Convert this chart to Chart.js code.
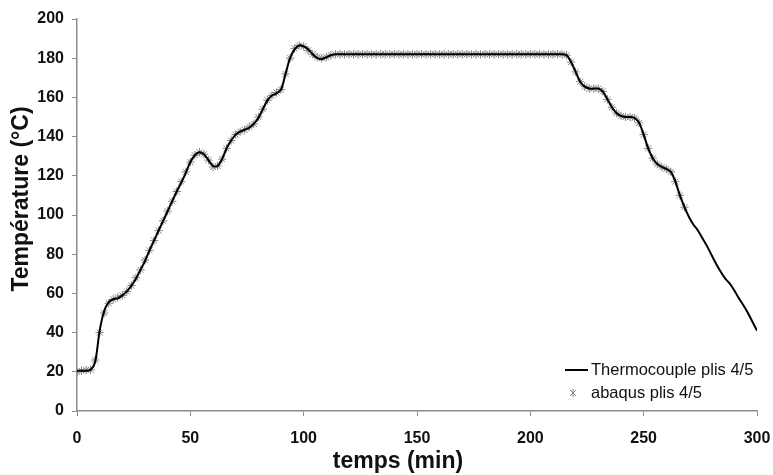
<!DOCTYPE html>
<html>
<head>
<meta charset="utf-8">
<script src="https://cdn.jsdelivr.net/npm/chart.js@4.4.1/dist/chart.umd.min.js"></script>
<style>
  html, body { margin: 0; padding: 0; background: #ffffff; }
  #wrap { width: 773px; height: 475px; }
</style>
</head>
<body>
<div id="wrap"><canvas id="c" width="773" height="475"></canvas></div>
<script>
// ---- Data ----
const xTitle = "temps (min)";
const yTitle = "Température (°C)";
const seriesNames = ["Thermocouple plis 4/5", "abaqus plis 4/5"];

const timeThermo = [
  0,2,4,6,8,10,12,14,16,18,20,22,24,26,28,30,32,34,36,38,40,42,44,46,48,50,
  52,54,56,58,60,62,64,66,68,70,72,74,76,78,80,82,84,86,88,90,92,94,96,98,100,
  102,104,106,108,110,112,114,116,118,120,122,124,126,128,130,132,134,136,138,140,
  142,144,146,148,150,152,154,156,158,160,162,164,166,168,170,172,174,176,178,180,
  182,184,186,188,190,192,194,196,198,200,202,204,206,208,210,212,214,216,218,220,
  222,224,226,228,230,232,234,236,238,240,242,244,246,248,250,252,254,256,258,260,
  262,264,266,268,270,272,274,276,278,280,282,284,286,288,290,292,294,296,298,300
];
const tempThermo = [
  20.5,20.5,20.5,21,25,41,51,55.5,57,57.5,59,61,64,67.5,72,76.5,82,87,92,97,102,107,112,116.5,121.5,127,
  130.5,132,131,128,125,125,128.5,134,138,141,142.5,143.5,144.5,146.5,149.5,154,158.5,161,162,164,172,180,184.5,186.5,186,
  184.5,182,180,179.5,180.5,181.5,182,182,182,182,182,182,182,182,182,182,182,182,182,182,
  182,182,182,182,182,182,182,182,182,182,182,182,182,182,182,182,182,182,182,182,
  182,182,182,182,182,182,182,182,182,182,182,182,182,182,182,182,182,181.5,178,173,
  168,165.5,164.5,164.5,164.5,163,159,155,152,150.5,150,150,149.5,147,141,134,129,126,124.5,123.5,
  122,117,110,104,99,95,92,88,84,79.5,75,71,67.5,65,61.5,57.5,54,50,45.5,41
];

const timeAbaqus = [
  0,2,4,6,8,10,12,14,16,18,20,22,24,26,28,30,32,34,36,38,40,42,44,46,48,50,
  52,54,56,58,60,62,64,66,68,70,72,74,76,78,80,82,84,86,88,90,92,94,96,98,100,
  102,104,106,108,110,112,114,116,118,120,122,124,126,128,130,132,134,136,138,140,
  142,144,146,148,150,152,154,156,158,160,162,164,166,168,170,172,174,176,178,180,
  182,184,186,188,190,192,194,196,198,200,202,204,206,208,210,212,214,216,218,220,
  222,224,226,228,230,232,234,236,238,240,242,244,246,248,250,252,254,256,258,260,
  262,264,266,268
];
const tempAbaqus = [
  20,20.5,21,21,26,40,50,55,57,58,59,61,64,68,72,77,82,87,92,97,102,107,112,117,122,127,
  130.5,132,131,128,124.5,125,128.5,134,138,141,142.5,143.5,145,146.5,150,154,158.5,161,162.5,164,172,180,185,186.5,186,
  184,182,180.5,180,180.5,181.5,182,182,182,182,182,182,182,182,182,182,182,182,182,182,
  182,182,182,182,182,182,182,182,182,182,182,182,182,182,182,182,182,182,182,182,
  182,182,182,182,182,182,182,182,182,182,182,182,182,182,182,182,182,181.5,178,173,
  168,165.5,164.5,164.5,164.5,163,159,155,152,150.5,150,150,149.5,147,141,134,129,126,124.5,123.5,
  122,117,110,104
];

const xTicks = { min: 0, max: 300, step: 50 };
const yTicks = { min: 0, max: 200, step: 20 };

// ---- Build chart ----
const thermoPts = timeThermo.map((t, i) => ({ x: t, y: tempThermo[i] }));
const abaqusPts = timeAbaqus.map((t, i) => ({ x: t, y: tempAbaqus[i] }));

const AXIS_COLOR = '#8c8c8c';
const TEXT_COLOR = '#111111';
const MARKER_COLOR = '#858585';
const FONT = 'Liberation Sans, Arial, sans-serif';

// Axis titles and legend, drawn at the reference's positions
const overlayPlugin = {
  id: 'overlay',
  afterDraw(chart) {
    const ctx = chart.ctx;
    const ds = chart.data.datasets;
    ctx.save();
    // axis titles
    ctx.fillStyle = TEXT_COLOR;
    ctx.font = 'bold 23px ' + FONT;
    ctx.textAlign = 'center';
    ctx.textBaseline = 'middle';
    ctx.fillText(xTitle, 398, 462);
    ctx.save();
    ctx.translate(22, 199);
    ctx.rotate(-Math.PI / 2);
    ctx.fillText(yTitle, 0, 0);
    ctx.restore();

    // legend
    const x0 = 565, y1 = 370, y2 = 393;
    ctx.font = '16.5px ' + FONT;
    ctx.textAlign = 'left';
    ctx.strokeStyle = '#000';
    ctx.lineWidth = 2;
    ctx.beginPath();
    ctx.moveTo(x0, y1);
    ctx.lineTo(x0 + 23, y1);
    ctx.stroke();
    ctx.fillText(ds[0].label, x0 + 26, y1);
    ctx.strokeStyle = MARKER_COLOR;
    ctx.lineWidth = 1;
    ctx.beginPath();
    ctx.moveTo(x0 + 5, y2 - 3); ctx.lineTo(x0 + 11, y2 + 3);
    ctx.moveTo(x0 + 11, y2 - 3); ctx.lineTo(x0 + 5, y2 + 3);
    ctx.moveTo(x0 + 8, y2 - 4); ctx.lineTo(x0 + 8, y2 + 4);
    ctx.stroke();
    ctx.fillText(ds[1].label, x0 + 26, y2);
    ctx.restore();
  }
};

new Chart(document.getElementById('c'), {
  type: 'line',
  data: {
    datasets: [
      {
        label: seriesNames[0],
        data: thermoPts,
        borderColor: '#000000',
        borderWidth: 2,
        pointRadius: 0,
        tension: 0.3,
        fill: false,
        order: 0
      },
      {
        label: seriesNames[1],
        data: abaqusPts,
        showLine: false,
        pointStyle: 'star',
        pointRadius: 4.2,
        pointBorderWidth: 1,
        pointBorderColor: MARKER_COLOR,
        pointBackgroundColor: MARKER_COLOR,
        order: 1
      }
    ]
  },
  options: {
    responsive: false,
    animation: false,
    devicePixelRatio: 1,
    layout: { padding: { left: 0, right: 16, top: 19, bottom: 0 } },
    plugins: {
      legend: { display: false },
      tooltip: { enabled: false }
    },
    scales: {
      x: {
        type: 'linear',
        min: xTicks.min,
        max: xTicks.max,
        afterFit(scale) {
          scale.height = 64;
          scale.paddingRight = 0;
          scale.paddingLeft = 0;
        },
        ticks: {
          stepSize: xTicks.step,
          color: TEXT_COLOR,
          font: { family: FONT, size: 16, weight: 'bold' },
          padding: 13,
          maxRotation: 0
        },
        grid: { drawOnChartArea: false, drawTicks: true, tickLength: 5, color: AXIS_COLOR },
        border: { color: AXIS_COLOR, width: 1.5 },
        title: { display: false }
      },
      y: {
        min: yTicks.min,
        max: yTicks.max,
        afterFit(scale) {
          scale.width = 77;
          scale.paddingTop = 0;
          scale.paddingBottom = 0;
        },
        ticks: {
          stepSize: yTicks.step,
          color: TEXT_COLOR,
          font: { family: FONT, size: 16, weight: 'bold' },
          padding: 8
        },
        grid: { drawOnChartArea: false, drawTicks: true, tickLength: 5, color: AXIS_COLOR },
        border: { color: AXIS_COLOR, width: 1.5 },
        title: { display: false }
      }
    }
  },
  plugins: [overlayPlugin]
});
</script>
</body>
</html>
